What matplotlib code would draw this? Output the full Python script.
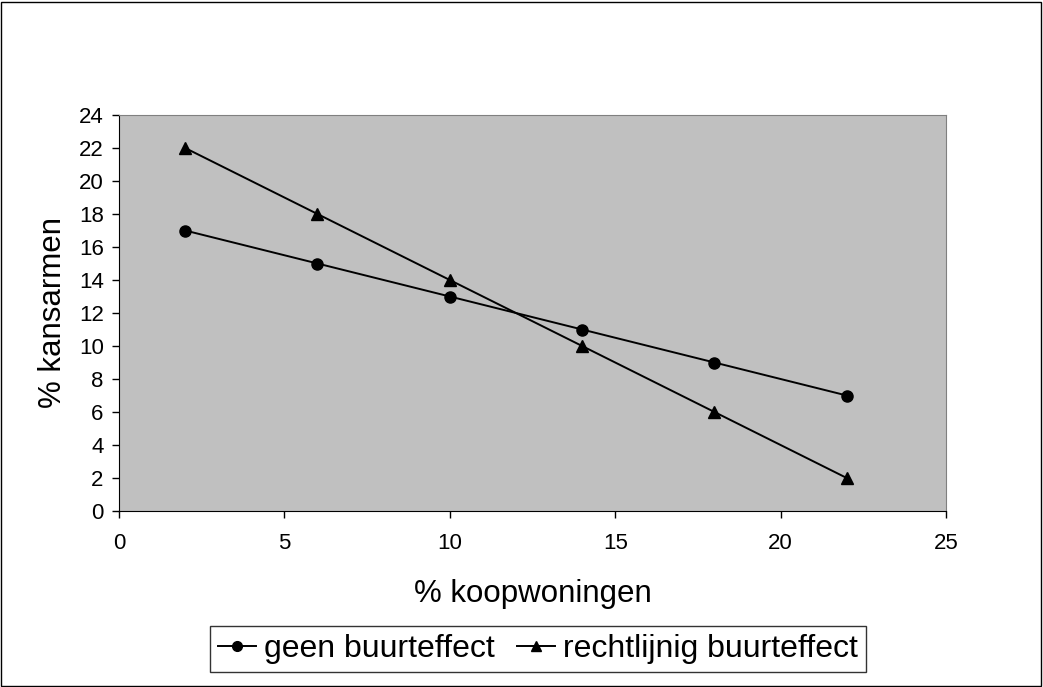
import matplotlib
matplotlib.use("Agg")
import matplotlib.pyplot as plt
from matplotlib.patches import Rectangle

plt.rcParams['font.family'] = ['Liberation Sans', 'DejaVu Sans']

x_vals = [2, 6, 10, 14, 18, 22]
geen = [17, 15, 13, 11, 9, 7]
rechtlijnig = [22, 18, 14, 10, 6, 2]
labels = ['geen buurteffect', 'rechtlijnig buurteffect']
xticks = [0, 5, 10, 15, 20, 25]
yticks = list(range(0, 25, 2))

W, H = 1043, 687
fig = plt.figure(figsize=(W/100, H/100), dpi=100)
fig.patch.set_facecolor('white')
fig.patches.append(Rectangle((1/W, 1/H), (W-3)/W, (H-3)/H, transform=fig.transFigure,
                             fill=False, edgecolor='black', linewidth=1))

ax = fig.add_axes([119/W, 1-511/H, (946-119)/W, (511-115)/H])
ax.set_facecolor('#c0c0c0')
l1, = ax.plot(x_vals, geen, color='black', marker='o', markersize=8, linewidth=1.4)
l2, = ax.plot(x_vals, rechtlijnig, color='black', marker='^', markersize=9, linewidth=1.4)
ax.set_xlim(0, 25)
ax.set_ylim(0, 24)
ax.set_xticks(xticks)
ax.set_yticks(yticks)
ax.tick_params(direction='out', length=5, width=1, labelsize=16, colors='black')
ax.tick_params(axis='y', pad=6)
ax.tick_params(axis='x', pad=11)
ax.spines['top'].set_color('#808080')
ax.spines['right'].set_color('#808080')
ax.spines['left'].set_color('black')
ax.spines['bottom'].set_color('black')
ax.set_xlabel('% koopwoningen', fontsize=22.5, labelpad=18)
ax.set_ylabel('% kansarmen', fontsize=22.5, labelpad=8)

leg = fig.legend([l1, l2], labels, loc='center', bbox_to_anchor=(538/W, 1-649/H),
                 ncol=2, fontsize=23, frameon=True, fancybox=False, edgecolor='black',
                 handlelength=1.2, handletextpad=0.25, columnspacing=0.7, borderpad=0.25)
leg.get_frame().set_linewidth(1)
for h in leg.legend_handles:
    h.set_markersize(7)

fig.savefig('out.png', dpi=100)
